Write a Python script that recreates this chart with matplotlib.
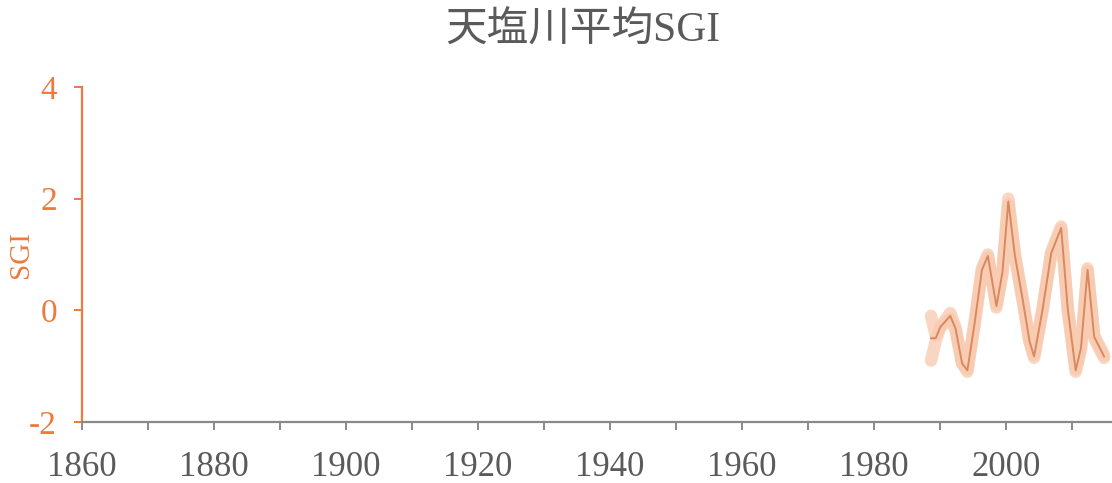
import numpy as np
import matplotlib
matplotlib.use("Agg")
import matplotlib.pyplot as plt
from matplotlib.ticker import MultipleLocator

plt.rcParams['font.family'] = ['Liberation Serif', 'Noto Sans CJK JP']
plt.rcParams['axes.unicode_minus'] = False

# 観測井ごとのSGI（年）
years = [1988.6, 1989.3, 1990.0, 1991.5, 1992.3, 1993.3, 1994.1, 1995.2, 1996.3,
         1997.2, 1998.5, 1999.4, 2000.3, 2001.3, 2002.5, 2003.5, 2004.2, 2005.5,
         2006.8, 2008.3, 2009.3, 2010.5, 2011.3, 2012.3, 2013.3, 2014.8]
well_a = [-0.10, -0.45, -0.30, -0.05, -0.30, -0.95, -1.10, -0.20, 0.75,
          1.00, 0.05, 0.70, 2.00, 1.00, 0.20, -0.55, -0.85, 0.00,
          1.05, 1.50, 0.00, -1.10, -0.70, 0.75, -0.50, -0.85]
well_b = [-0.90, -0.55, -0.30, -0.15, -0.35, -0.95, -1.05, -0.25, 0.70,
          0.95, 0.10, 0.65, 1.90, 0.95, 0.15, -0.55, -0.80, 0.05,
          1.00, 1.45, 0.05, -1.05, -0.65, 0.70, -0.45, -0.80]
mean_sgi = (np.array(well_a) + np.array(well_b)) / 2

orange = '#ec7b3f'
grey = '#8a8a8a'

fig = plt.figure(figsize=(11.12, 4.83), dpi=100)
ax = fig.add_axes([0.0737, 0.1263, 0.9263, 0.6936])

for well in (well_a, well_b):
    ax.plot(years, well, color='#f8c9ae', lw=9, alpha=0.75,
            solid_capstyle='round', solid_joinstyle='round')
ax.plot(years, mean_sgi, color='#c9652f', lw=1.4, alpha=0.65,
        solid_joinstyle='round')

ax.set_xlim(1860, 2016)
ax.set_ylim(-2, 4)
ax.xaxis.set_major_locator(MultipleLocator(20))
ax.xaxis.set_minor_locator(MultipleLocator(10))
ax.yaxis.set_major_locator(MultipleLocator(2))

for s in ['top', 'right']:
    ax.spines[s].set_visible(False)
ax.spines['left'].set_color(orange)
ax.spines['left'].set_linewidth(1.6)
ax.spines['bottom'].set_color(grey)
ax.spines['bottom'].set_linewidth(1.6)

ax.tick_params(axis='x', which='both', length=6, width=1.4, color=grey,
               labelcolor='#5a5a5a', labelsize=25, pad=15)
ax.tick_params(axis='y', length=6, width=1.4, color=orange,
               labelcolor=orange, labelsize=24, pad=12)

ax.set_ylabel('SGI', color=orange, fontsize=21)
ax.yaxis.set_label_coords(-0.047, 0.5)

fig.text(0.524, 0.935, '天塩川平均SGI', ha='center', va='center',
         fontsize=30, color='#5a5a5a')

fig.savefig('out.png', dpi=100)
